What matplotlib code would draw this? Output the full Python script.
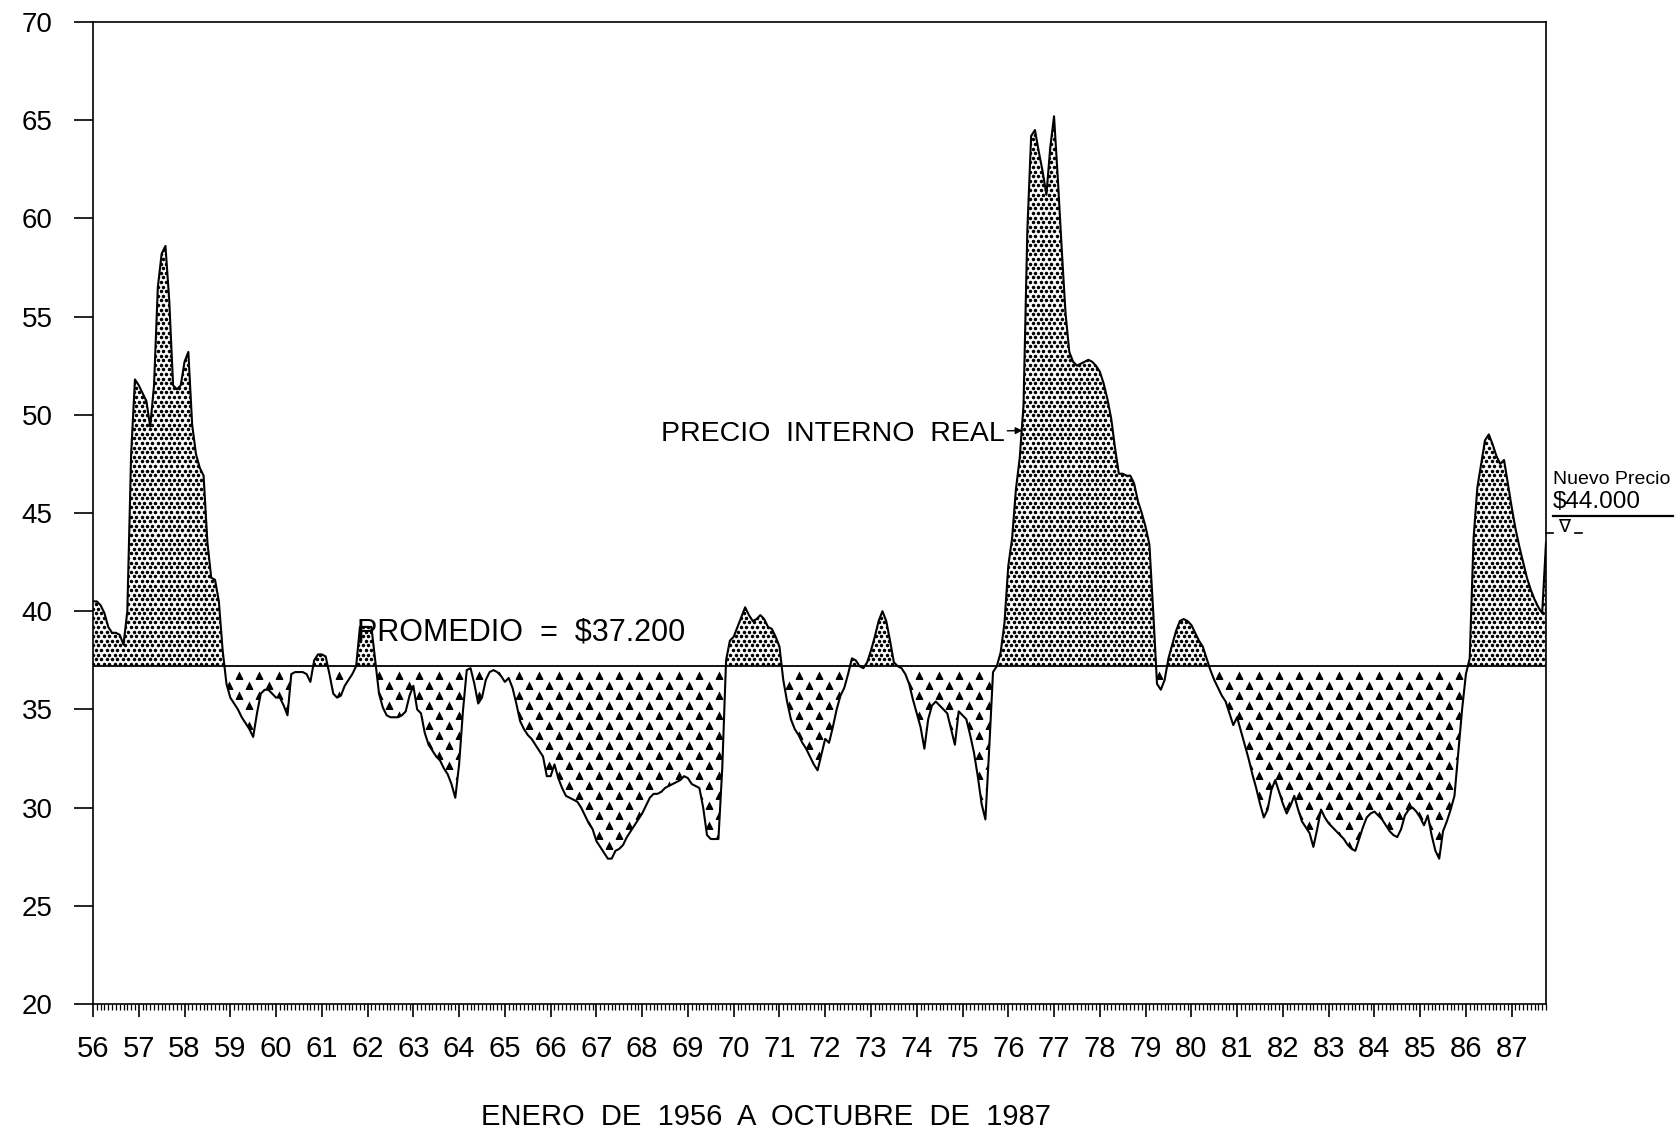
import numpy as np
import matplotlib
matplotlib.use("Agg")
import matplotlib.pyplot as plt
from matplotlib.path import Path
from matplotlib.lines import Line2D

# ---------------- data (monthly, Jan 1956 - Oct 1987) ----------------
year_labels = [str(y) for y in range(56, 88)]
p1956 = [40.5, 40.5, 40.3, 39.9, 39.2, 38.9, 38.9, 38.8, 38.3, 40.0, 48.0, 51.8]
p1957 = [51.5, 51.1, 50.7, 49.4, 51.5, 56.5, 58.2, 58.6, 55.8, 51.5, 51.3, 51.5]
p1958 = [52.7, 53.2, 49.5, 48.0, 47.3, 46.9, 43.5, 41.7, 41.6, 40.5, 38.0, 36.3]
p1959 = [35.6, 35.3, 35.0, 34.6, 34.3, 34.0, 33.6, 34.8, 35.8, 36.0, 36.0, 35.8]
p1960 = [35.6, 35.6, 35.2, 34.7, 36.8, 36.9, 36.9, 36.9, 36.8, 36.4, 37.5, 37.8]
p1961 = [37.8, 37.7, 36.8, 35.8, 35.6, 35.7, 36.2, 36.5, 36.8, 37.2, 39.2, 39.2]
p1962 = [39.2, 39.2, 37.5, 35.8, 35.1, 34.7, 34.6, 34.6, 34.6, 34.7, 34.9, 35.7]
p1963 = [36.2, 35.0, 34.8, 33.8, 33.2, 32.9, 32.6, 32.4, 32.0, 31.7, 31.2, 30.5]
p1964 = [32.2, 34.9, 37.0, 37.1, 36.3, 35.3, 35.6, 36.5, 36.9, 37.0, 36.9, 36.7]
p1965 = [36.4, 36.6, 36.1, 35.3, 34.4, 34.0, 33.7, 33.5, 33.2, 32.9, 32.6, 31.6]
p1966 = [31.6, 32.2, 31.5, 31.0, 30.6, 30.5, 30.4, 30.3, 30.0, 29.6, 29.2, 28.9]
p1967 = [28.3, 28.0, 27.7, 27.4, 27.4, 27.8, 27.9, 28.1, 28.5, 28.8, 29.1, 29.4]
p1968 = [29.7, 30.1, 30.5, 30.7, 30.7, 30.8, 31.0, 31.1, 31.2, 31.3, 31.4, 31.6]
p1969 = [31.5, 31.2, 31.1, 31.0, 30.0, 28.6, 28.4, 28.4, 28.4, 32.0, 37.5, 38.5]
p1970 = [38.7, 39.2, 39.7, 40.2, 39.8, 39.5, 39.6, 39.8, 39.6, 39.2, 39.1, 38.7]
p1971 = [38.2, 36.5, 35.4, 34.5, 34.0, 33.7, 33.3, 33.0, 32.6, 32.2, 31.9, 32.7]
p1972 = [33.5, 33.3, 34.1, 35.0, 35.7, 36.1, 36.8, 37.6, 37.5, 37.2, 37.1, 37.4]
p1973 = [38.0, 38.7, 39.5, 40.0, 39.5, 38.5, 37.4, 37.2, 37.1, 36.8, 36.3, 35.5]
p1974 = [34.8, 34.1, 33.0, 34.5, 35.2, 35.4, 35.2, 35.0, 34.8, 34.0, 33.2, 34.9]
p1975 = [34.7, 34.5, 33.7, 32.8, 31.6, 30.2, 29.4, 33.0, 36.9, 37.2, 37.9, 39.4]
p1976 = [42.3, 43.7, 46.2, 47.8, 50.5, 59.4, 64.2, 64.5, 63.4, 62.4, 61.2, 63.6]
p1977 = [65.2, 62.0, 58.5, 55.2, 53.2, 52.7, 52.5, 52.6, 52.7, 52.8, 52.7, 52.5]
p1978 = [52.2, 51.6, 50.8, 49.8, 48.3, 47.0, 47.0, 46.9, 46.9, 46.5, 45.6, 45.0]
p1979 = [44.3, 43.4, 40.0, 36.3, 36.0, 36.5, 37.6, 38.3, 39.0, 39.5, 39.6, 39.5]
p1980 = [39.3, 38.9, 38.5, 38.2, 37.6, 37.0, 36.5, 36.1, 35.7, 35.4, 34.8, 34.2]
p1981 = [34.6, 33.9, 33.2, 32.5, 31.7, 31.0, 30.2, 29.5, 29.9, 30.9, 31.4, 30.8]
p1982 = [30.2, 29.7, 30.1, 30.6, 29.9, 29.3, 29.0, 28.7, 28.0, 28.9, 29.9, 29.5]
p1983 = [29.2, 29.0, 28.8, 28.6, 28.4, 28.1, 27.9, 27.8, 28.4, 29.0, 29.5, 29.7]
p1984 = [29.8, 29.6, 29.4, 29.1, 28.8, 28.6, 28.5, 28.9, 29.6, 29.9, 30.0, 29.8]
p1985 = [29.5, 29.1, 29.6, 28.6, 27.8, 27.4, 28.8, 29.3, 29.9, 30.6, 32.8, 35.0]
p1986 = [36.8, 37.6, 43.7, 46.3, 47.5, 48.7, 49.0, 48.5, 47.9, 47.5, 47.7, 46.5]
p1987 = [45.3, 44.2, 43.3, 42.5, 41.7, 41.1, 40.6, 40.2, 39.9, 43.5]

promedio = 37.2
nuevo_precio = 44.0
y_ticks = [20, 25, 30, 35, 40, 45, 50, 55, 60, 65, 70]

series = np.array(p1956 + p1957 + p1958 + p1959 + p1960 + p1961 + p1962 + p1963 +
                  p1964 + p1965 + p1966 + p1967 + p1968 + p1969 + p1970 + p1971 +
                  p1972 + p1973 + p1974 + p1975 + p1976 + p1977 + p1978 + p1979 +
                  p1980 + p1981 + p1982 + p1983 + p1984 + p1985 + p1986 + p1987)
months = np.arange(len(series))
nmax = len(series) - 1

# ---------------- layout ----------------
W, H = 1680, 1132
FONT = ["Liberation Sans", "DejaVu Sans"]
plt.rcParams['font.family'] = FONT
fig = plt.figure(figsize=(W / 100, H / 100), dpi=100)
x0, x1 = 93, 1546
y0, y1 = 22, 1004
ax = fig.add_axes([x0 / W, 1 - y1 / H, (x1 - x0) / W, (y1 - y0) / H])
ax.set_xlim(0, nmax)
ax.set_ylim(20, 70)

ppm = (x1 - x0) / nmax      # pixels per month
ppu = (y1 - y0) / 50.0      # pixels per price unit

# ---------------- fills (patterns clipped to regions) ----------------
above = ax.fill_between(months, series, promedio, where=series >= promedio,
                        interpolate=True, facecolor='none', edgecolor='none')
below = ax.fill_between(months, series, promedio, where=series <= promedio,
                        interpolate=True, facecolor='none', edgecolor='none')


def compound(coll):
    return Path.make_compound_path(*coll.get_paths())


# dot stipple above the average
dx = 5.4 / ppm
dy = 4.6 / ppu
xs_d, ys_d = [], []
for j, yv in enumerate(np.arange(promedio + dy * 0.5, 67, dy)):
    off = dx / 2 if j % 2 else 0.0
    xr = np.arange(off, nmax + dx, dx)
    xs_d.append(xr)
    ys_d.append(np.full_like(xr, yv))
dots = ax.scatter(np.concatenate(xs_d), np.concatenate(ys_d), s=6.5, marker='o',
                  c='k', linewidths=0, zorder=2)
dots.set_clip_path(compound(above), ax.transData)

# triangle pattern below the average
tx = 20.0 / ppm
ty = 10.0 / ppu
xs_t, ys_t = [], []
for j, yv in enumerate(np.arange(promedio - ty * 0.9, 26, -ty)):
    off = tx / 2 if j % 2 else 0.0
    xr = np.arange(1.5 + off, nmax + tx, tx)
    xs_t.append(xr)
    ys_t.append(np.full_like(xr, yv))
tris = ax.scatter(np.concatenate(xs_t), np.concatenate(ys_t), s=34, marker='^',
                  c='k', linewidths=0, zorder=2)
tris.set_clip_path(compound(below), ax.transData)

# ---------------- lines ----------------
ax.axhline(promedio, color='k', lw=1.3, zorder=3)
ax.plot(months, series, color='k', lw=1.5, zorder=4)

# ---------------- axes styling ----------------
for sp in ax.spines.values():
    sp.set_linewidth(1.2)
ax.set_yticks(y_ticks)
ax.set_yticklabels([str(v) for v in y_ticks])
ax.set_xticks(np.arange(0, nmax + 1, 12))
ax.set_xticklabels(year_labels)
ax.set_xticks(months, minor=True)
ax.tick_params(axis='y', which='major', direction='out', length=14, width=1.2,
               pad=15, labelsize=20, right=False)
ax.tick_params(axis='x', which='major', direction='out', length=9.5, width=1.2,
               pad=13, labelsize=21, top=False)
ax.tick_params(axis='x', which='minor', direction='out', length=4, width=0.9,
               top=False)
ax.tick_params(axis='y', which='minor', left=False, right=False)

# ---------------- annotations ----------------
ax.text(69.2, 38.9, "PROMEDIO  =  $37.200", fontsize=22, ha='left', va='center',
        zorder=5)
ax.annotate("PRECIO  INTERNO  REAL", xy=(243.7, 49.2), xytext=(239.0, 49.0),
            ha='right', va='center', fontsize=20.5,
            arrowprops=dict(arrowstyle='-|>', color='k', lw=1.0,
                            shrinkA=0, shrinkB=0, mutation_scale=10))

fig.text(766 / W, 1 - 1117 / H, "ENERO  DE  1956  A  OCTUBRE  DE  1987",
         fontsize=21, ha='center', va='center')

# new price marker at right
fig.text(1553 / W, 1 - 480 / H, "Nuevo Precio", fontsize=14, ha='left', va='center')
fig.text(1553 / W, 1 - 502 / H, "$44.000", fontsize=17.5, ha='left', va='center')
fig.add_artist(Line2D([1553 / W, 1673 / W], [1 - 516 / H, 1 - 516 / H],
                      transform=fig.transFigure, color='k', lw=1.6))
ax.plot([nmax, nmax + 7 / ppm], [nuevo_precio, nuevo_precio], color='k', lw=1.2,
        clip_on=False)
ax.plot([nmax + 29 / ppm, nmax + 36 / ppm], [nuevo_precio, nuevo_precio], color='k',
        lw=1.2, clip_on=False)
fig.text(1564 / W, 1 - 517 / H, "\u2207", fontsize=13, ha='center', va='top',
         family=["DejaVu Sans"])

fig.savefig("out.png", dpi=100)
